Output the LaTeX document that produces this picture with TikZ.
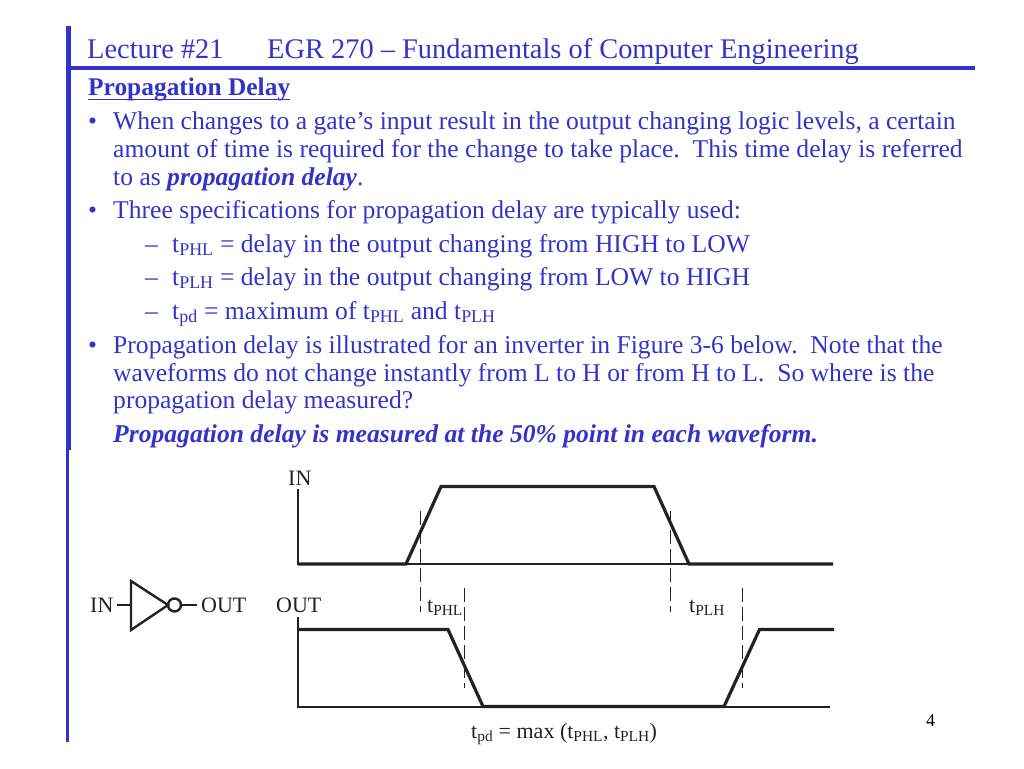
\documentclass[tikz,border=0pt]{standalone}
\usepackage{fontspec}
\setmainfont{Liberation Serif}
\definecolor{slideblue}{HTML}{3333CC}
\definecolor{figgray}{HTML}{222222}
\tikzset{
  titletext/.style={anchor=base west, inner sep=0pt, text=slideblue, font=\fontsize{28.4}{30}\selectfont},
  bodytext/.style={anchor=base west, inner sep=0pt, text=slideblue, font=\fontsize{25.6}{28}\selectfont},
  figtext/.style={anchor=base west, inner sep=0pt, text=figgray, font=\fontsize{22}{24}\selectfont},
  bar/.style={draw=slideblue, line width=4.4pt},
  axis/.style={draw=figgray, line width=1.2pt},
  wave/.style={draw=figgray, line width=3.2pt, line join=miter},
  marker/.style={draw=figgray, line width=1.1pt, dash pattern=on 14pt off 5pt}
}
\begin{document}
\begin{tikzpicture}[x=1pt, y=-1pt]
\useasboundingbox (0,0) rectangle (1024,768);

% frame
\draw [bar] (68.5,26) -- (68.5,450);
\draw [bar, line width=3.3pt] (67.7,450) -- (67.7,742);
\draw [bar] (68.5,68) -- (975,68);

% title and text
\node (title) [titletext] at (87,58.5) {Lecture \#21};
\node (course) [titletext] at (267,58.5) {EGR 270 – Fundamentals of Computer Engineering};
\node (heading) [bodytext, font=\fontsize{25.4}{28}\selectfont\bfseries] at (88,95) {Propagation Delay};
\draw [draw=slideblue, line width=1.5pt] ([yshift=-4.3pt]heading.base west) -- ([yshift=-4.3pt]heading.base east);

\node (b1) [bodytext] at (113,129.5) {When changes to a gate’s input result in the output changing logic levels, a certain};
\node (b1a) [bodytext] at (113,157.5) {amount of time is required for the change to take place.\ \ This time delay is referred};
\node (b1b) [bodytext] at (113,185) {to as \textbf{\textit{propagation delay}}.};
\node (b2) [bodytext] at (113,218) {Three specifications for propagation delay are typically used:};
\node (s1) [bodytext] at (172,252) {t\textsubscript{PHL} = delay in the output changing from HIGH to LOW};
\node (s2) [bodytext] at (172,285) {t\textsubscript{PLH} = delay in the output changing from LOW to HIGH};
\node (s3) [bodytext] at (172,319) {t\textsubscript{pd} = maximum of t\textsubscript{PHL} and t\textsubscript{PLH}};
\node (b3) [bodytext] at (113,353.5) {Propagation delay is illustrated for an inverter in Figure 3-6 below.\ \ Note that the};
\node (b3a) [bodytext] at (113,381) {waveforms do not change instantly from L to H or from H to L.\ \ So where is the};
\node (b3b) [bodytext] at (113,408.5) {propagation delay measured?};
\node (b4) [bodytext, font=\fontsize{25.6}{28}\selectfont\bfseries\itshape] at (113,442) {Propagation delay is measured at the 50\% point in each waveform.};

% bullets and dashes
\foreach \y in {129.5,218,353.5} \node (dot\y) [bodytext] at (88,\y) {•};
\foreach \y in {252,285,319} \node (dash\y) [bodytext] at (145,\y) {–};

% inverter
\node (invin) [figtext] at (90,612) {IN};
\node (invout) [figtext] at (201,612) {OUT};
\coordinate (tri) at (168,605);
\coordinate (inL) at (117,605);
\coordinate (outR) at (197,605);
\draw [wave, line width=2.4pt] (131,581) -- (tri) -- (131,630) -- cycle;
\node (bubble) [circle, draw=figgray, line width=2.4pt, minimum size=13pt, inner sep=0pt] at (174.5,605) {};
\draw [axis] (inL) -- (131,605);
\draw [axis] (bubble) -- (outR);

% IN waveform
\node (inlab) [figtext] at (288,485) {IN};
\draw [axis] (298,489) -- (298,564) -- (833,564);
\draw [wave] (298,564) -- (406,564) -- (441,486.5) -- (654,486.5) -- (689,564) -- (833,564);

% OUT waveform
\node (outlab) [figtext] at (276,612) {OUT};
\draw [axis] (298,617) -- (298,707) -- (830,707);
\draw [wave] (298,629.5) -- (448,629.5) -- (483,706.5) -- (724,706.5) -- (759.5,629.5) -- (834,629.5);

% delay markers
\draw [marker] (420.5,511) -- (420.5,612);
\draw [marker] (670.5,511) -- (670.5,612);
\draw [marker] (464.5,588) -- (464.5,688);
\draw [marker] (742.5,588) -- (742.5,688);
\node (tphl) [figtext] at (427,612) {t\textsubscript{PHL}};
\node (tplh) [figtext] at (689,612) {t\textsubscript{PLH}};
\node (tpd) [figtext] at (471,738) {t\textsubscript{pd} = max (t\textsubscript{PHL}, t\textsubscript{PLH})};

% page number
\node (pagenum) [anchor=base west, inner sep=0pt, font=\fontsize{18}{20}\selectfont] at (926,726) {4};
\end{tikzpicture}
\end{document}
